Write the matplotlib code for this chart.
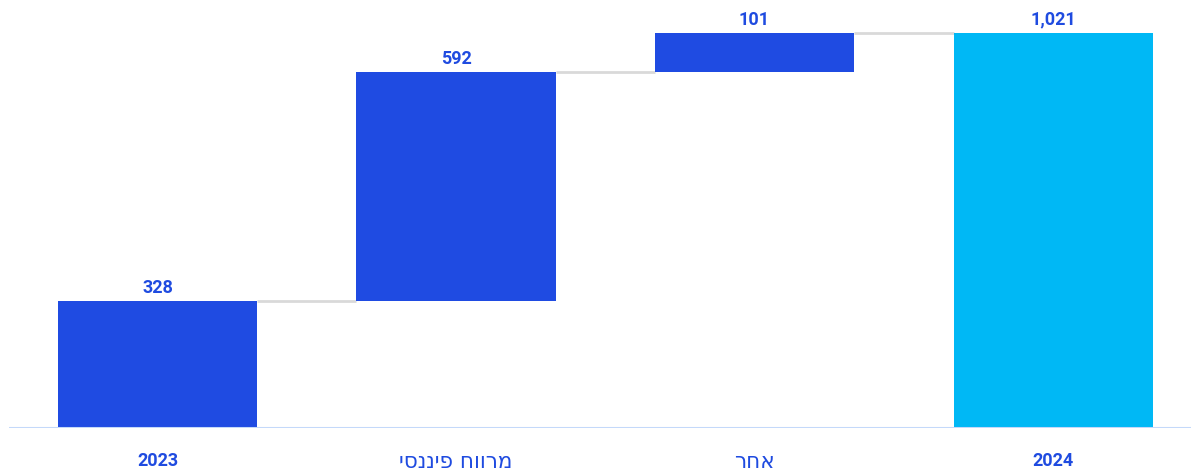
import matplotlib
matplotlib.use("Agg")
import matplotlib.pyplot as plt

categories = ["2023", "מרווח פיננסי", "אחר", "2024"]
values = [328, 592, 101, 1021]
is_total = [True, False, False, True]
value_labels = ["328", "592", "101", "1,021"]

BLUE = "#1f4be2"
CYAN = "#00b8f5"
TEXT = "#1f4be0"

W, H, DPI = 1191, 470, 100
fig = plt.figure(figsize=(W / DPI, H / DPI), dpi=DPI)
ax = fig.add_axes([9 / W, (H - 428) / H, 1 - 9 / W, 428 / H])

bottoms, heights = [], []
running = 0
for v, tot in zip(values, is_total):
    if tot:
        bottoms.append(0)
        running = v
    else:
        bottoms.append(running)
        running += v
    heights.append(v)
colors = [CYAN if (tot and i == len(values) - 1) else BLUE
          for i, tot in enumerate(is_total)]

x = list(range(len(categories)))
width = 0.667
ax.bar(x, heights, bottom=bottoms, width=width, color=colors, zorder=2)

# connectors between consecutive bar tops
for i in range(len(x) - 1):
    top = bottoms[i] + heights[i]
    ax.plot([x[i] + width / 2, x[i + 1] - width / 2], [top, top],
            color="#d9d9d9", lw=2, zorder=1, solid_capstyle="butt")

for xi, b, h, lab in zip(x, bottoms, heights, value_labels):
    ax.annotate(lab, (xi, b + h), xytext=(0, 3), textcoords="offset points",
                ha="center", va="bottom", fontsize=13, fontweight="bold",
                color=TEXT, family=["Roboto", "DejaVu Sans"])

ax.set_xlim(-0.4975, 3.462)
ax.set_ylim(0, 1021 * 428 / 395)
ax.axhline(0, color="#c4d9fa", lw=2.2, zorder=3)

ax.set_xticks(x)
tick_text = [c if c.isdigit() else c[::-1] for c in categories]
ax.set_xticklabels(tick_text)
for lbl, c in zip(ax.get_xticklabels(), categories):
    lbl.set_color(TEXT)
    if c.isdigit():
        lbl.set_fontsize(13)
        lbl.set_fontweight("bold")
        lbl.set_family(["Roboto", "DejaVu Sans"])
    else:
        lbl.set_fontsize(15.5)
        lbl.set_family(["DejaVu Sans"])
ax.tick_params(axis="x", length=0, pad=17)
ax.set_yticks([])
for s in ax.spines.values():
    s.set_visible(False)

fig.savefig("out.png", dpi=DPI)
